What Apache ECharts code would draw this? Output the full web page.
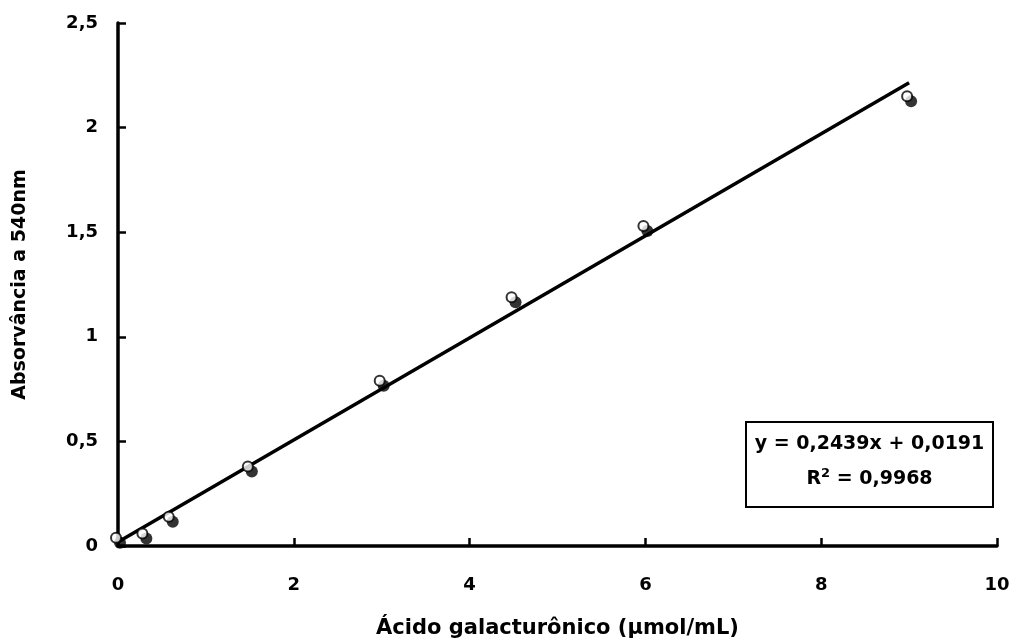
<!DOCTYPE html>
<html>
<head>
<meta charset="utf-8">
<script src="https://cdn.jsdelivr.net/npm/echarts@6/dist/echarts.min.js"></script>
<style>
  html, body { margin: 0; padding: 0; background: #fff; }
  #chart { width: 1012px; height: 639px; }
</style>
</head>
<body>
<div id="chart"></div>
<script>
// Standard curve: galacturonic acid concentration vs absorbance at 540 nm
const concentration = [0, 0.3, 0.6, 1.5, 3, 4.5, 6, 9];
const absorbance = [0.03, 0.05, 0.13, 0.37, 0.78, 1.18, 1.52, 2.14];
const slope = 0.2439;
const intercept = 0.0191;
const rSquared = 0.9968;
const fitRange = [0, 9];
const xTicks = [0, 2, 4, 6, 8, 10];
const yTicks = [0, 0.5, 1, 1.5, 2, 2.5];

const fmt = v => String(v).replace('.', ',');
const points = concentration.map((x, i) => [x, absorbance[i]]);
const fitLine = fitRange.map(x => [x, slope * x + intercept]);

const font = '"DejaVu Sans", Verdana, sans-serif';
const chart = echarts.init(document.getElementById('chart'));

chart.setOption({
  animation: false,
  backgroundColor: '#fff',
  grid: { left: 118, right: 15, top: 23, bottom: 93, outerBoundsMode: 'none', containLabel: false },
  xAxis: {
    type: 'value',
    min: xTicks[0], max: xTicks[xTicks.length - 1], interval: 2,
    name: 'Ácido galacturônico (µmol/mL)',
    nameLocation: 'middle', nameGap: 72,
    nameTextStyle: { fontFamily: font, fontWeight: 'bold', fontSize: 21, color: '#000' },
    axisLine: { lineStyle: { color: '#000', width: 3.5 } },
    axisTick: { inside: true, length: 8, lineStyle: { color: '#000', width: 2.5 } },
    axisLabel: { margin: 30, fontFamily: font, fontWeight: 'bold', fontSize: 18, color: '#000', formatter: fmt },
    splitLine: { show: false }
  },
  yAxis: {
    type: 'value',
    min: yTicks[0], max: yTicks[yTicks.length - 1], interval: 0.5,
    name: 'Absorvância a 540nm',
    nameLocation: 'middle', nameGap: 88, nameRotate: 90,
    nameTextStyle: { fontFamily: font, fontWeight: 'bold', fontSize: 19, color: '#000' },
    axisLine: { lineStyle: { color: '#000', width: 3.5 } },
    axisTick: { inside: true, length: 8, lineStyle: { color: '#000', width: 2.5 } },
    axisLabel: { margin: 20, fontFamily: font, fontWeight: 'bold', fontSize: 18, color: '#000', formatter: fmt },
    splitLine: { show: false }
  },
  series: [
    {
      // regression line
      type: 'line',
      data: fitLine,
      showSymbol: false,
      lineStyle: { color: '#000', width: 3.5 },
      z: 2
    },
    {
      // shaded part of the marker
      type: 'scatter',
      data: points,
      symbol: 'circle',
      symbolSize: 12,
      symbolOffset: [2, 3],
      itemStyle: { color: '#000' },
      z: 3
    },
    {
      // highlighted part of the marker
      type: 'scatter',
      data: points,
      symbol: 'circle',
      symbolSize: 10,
      symbolOffset: [-2, -2],
      itemStyle: { color: '#fff', borderColor: '#000', borderWidth: 2 },
      z: 4
    }
  ],
  graphic: [
    {
      type: 'rect',
      shape: { x: 746, y: 422, width: 247, height: 85 },
      style: { fill: '#fff', stroke: '#000', lineWidth: 2 },
      z: 10
    },
    {
      type: 'text',
      x: 869.5, y: 444,
      style: {
        text: 'y = ' + fmt(slope) + 'x + ' + fmt(intercept),
        font: 'bold 19px ' + font,
        fill: '#000', align: 'center', verticalAlign: 'middle'
      },
      z: 11
    },
    {
      type: 'text',
      x: 869.5, y: 478,
      style: {
        text: '{b|R}{s|2}{b| = ' + fmt(rSquared) + '}',
        align: 'center', verticalAlign: 'middle',
        rich: {
          b: { font: 'bold 19px ' + font, fill: '#000', verticalAlign: 'bottom', lineHeight: 22 },
          s: { font: 'bold 13px ' + font, fill: '#000', verticalAlign: 'top', lineHeight: 22, padding: [0, 0, 10, 0] }
        }
      },
      z: 11
    }
  ]
});
</script>
</body>
</html>
